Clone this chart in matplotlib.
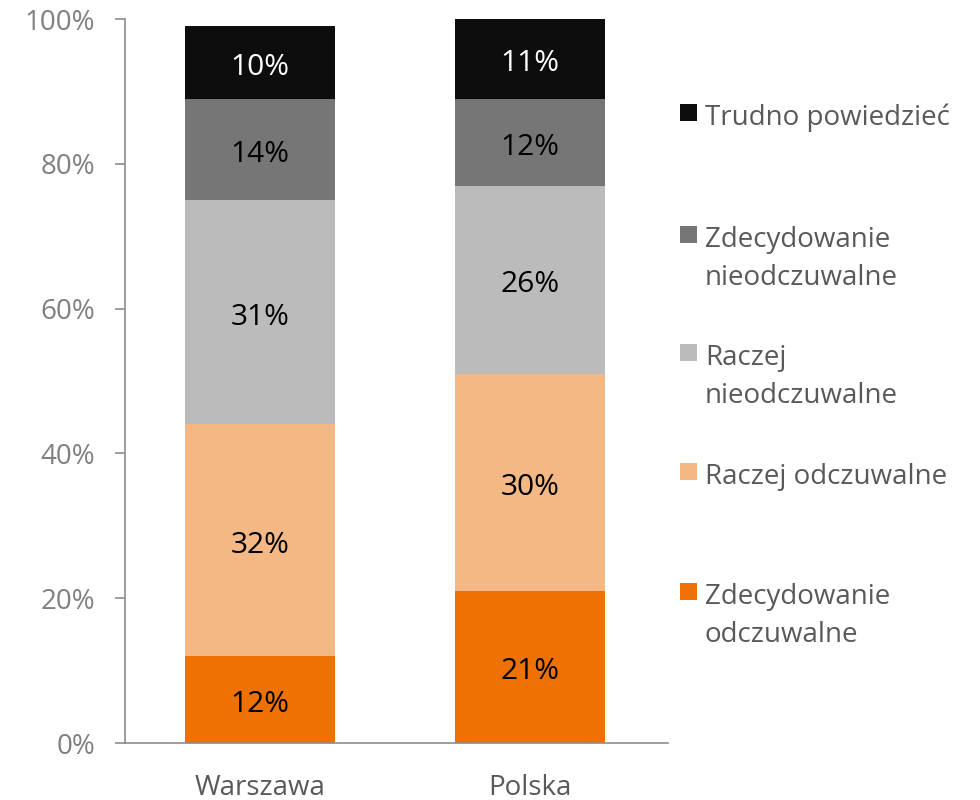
import matplotlib
matplotlib.use("Agg")
import matplotlib.pyplot as plt
from matplotlib.patches import Rectangle
from matplotlib.ticker import FuncFormatter
from matplotlib.transforms import offset_copy

plt.rcParams['font.family'] = ['Open Sans', 'DejaVu Sans']

categories = ["Warszawa", "Polska"]
series_names = ["Zdecydowanie odczuwalne", "Raczej odczuwalne", "Raczej nieodczuwalne",
                "Zdecydowanie nieodczuwalne", "Trudno powiedzieć"]
legend_lines = [["Zdecydowanie", "odczuwalne"], ["Raczej odczuwalne"],
                ["Raczej", "nieodczuwalne"], ["Zdecydowanie", "nieodczuwalne"],
                ["Trudno powiedzieć"]]
zdec_odcz = [12, 21]
raczej_odcz = [32, 30]
raczej_nieodcz = [31, 26]
zdec_nieodcz = [14, 12]
trudno = [10, 11]
values = [zdec_odcz, raczej_odcz, raczej_nieodcz, zdec_nieodcz, trudno]
colors = ["#EE7203", "#F4B884", "#BBBBBB", "#767676", "#0D0D0D"]
label_colors = ["black", "black", "black", "black", "white"]
yticks = [0, 20, 40, 60, 80, 100]

fig = plt.figure(figsize=(9.8, 8), dpi=100)
ax = fig.add_axes([125/980, 1-743/800, (668-125)/980, (743-19)/800])

x = list(range(len(categories)))
bottoms = [0]*len(categories)
width = 150/270
lab_tr = offset_copy(ax.transData, fig=fig, x=0, y=-5, units='dots')
for vals, col, lc in zip(values, colors, label_colors):
    ax.bar(x, vals, width=width, bottom=bottoms, color=col, linewidth=0)
    for xi, v, b in zip(x, vals, bottoms):
        ax.text(xi, b + v/2, f"{v}%", ha='center', va='center', fontsize=21.5,
                color=lc, transform=lab_tr)
    bottoms = [b + v for b, v in zip(bottoms, vals)]

ax.set_xlim(-0.5, 1.51)
ax.set_ylim(0, 100)
ax.set_yticks(yticks)
ax.yaxis.set_major_formatter(FuncFormatter(lambda v, p: f"{int(v)}%"))
ax.set_xticks(x)
ax.set_xticklabels(categories)
for s in ['top', 'right']:
    ax.spines[s].set_visible(False)
for s in ['left', 'bottom']:
    ax.spines[s].set_color('#8C8C8C')
    ax.spines[s].set_linewidth(1.2)
ax.tick_params(axis='y', length=7.5, width=1.2, color='#8C8C8C', labelsize=20,
               labelcolor='#808080', pad=14)
ax.tick_params(axis='x', length=0, labelsize=20, labelcolor='#595959', pad=22)

# legend (manual); baselines of first lines in pixels
legend_base = [604, 484, 365, 247, 125]
line_step = 38
for lines, col, pb in zip(legend_lines, colors, legend_base):
    sq_c = pb - 13
    fig.patches.append(Rectangle((680/980, 1 - (sq_c + 8.5)/800), 17/980, 17/800,
                                 transform=fig.transFigure, color=col, linewidth=0))
    for i, ln in enumerate(lines):
        fig.text(705/980, 1 - (pb + i*line_step)/800, ln, ha='left', va='baseline',
                 fontsize=20, color='#595959')

fig.savefig("out.png", dpi=100)
